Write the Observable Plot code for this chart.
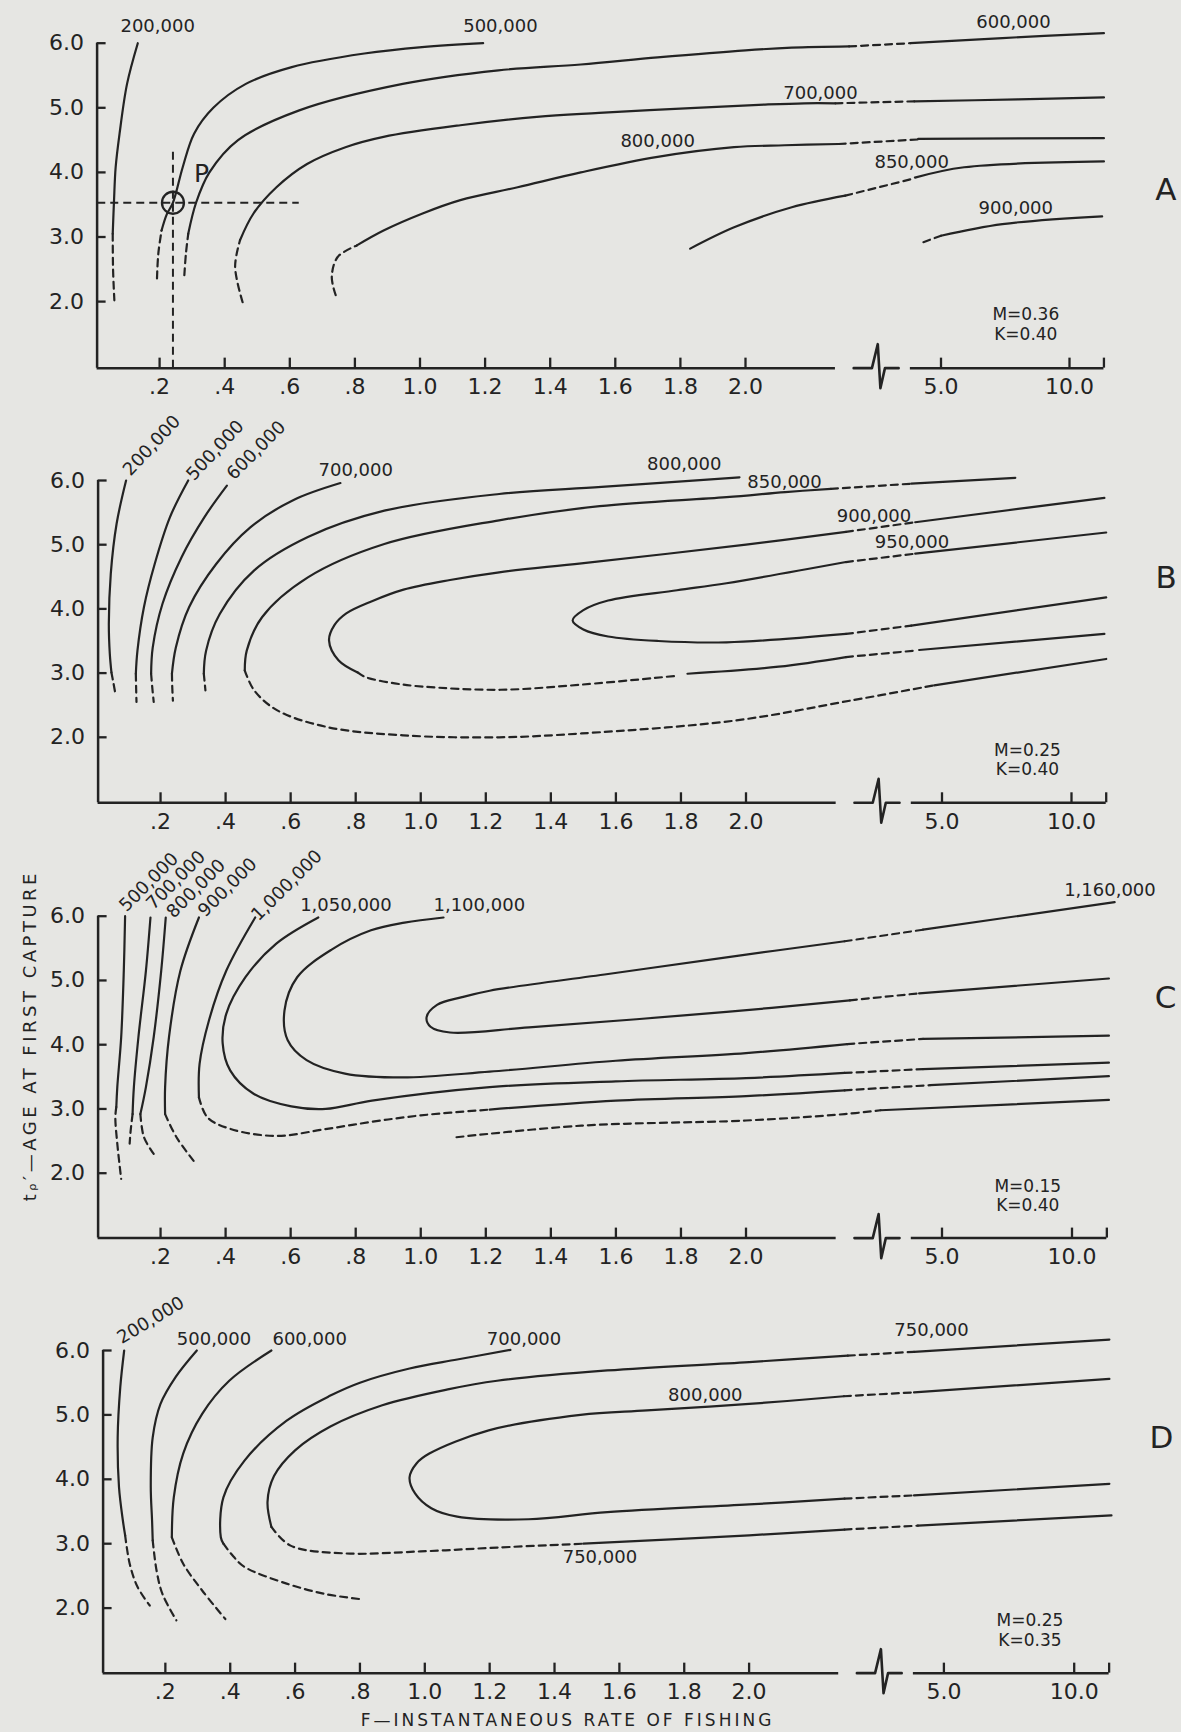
<!DOCTYPE html>
<html><head><meta charset="utf-8">
<script src="https://cdn.jsdelivr.net/npm/d3@7"></script>
<script src="https://cdn.jsdelivr.net/npm/@observablehq/plot@0.6"></script>
<style>
html,body{margin:0;padding:0;background:#e6e6e3;}
#page{position:relative;width:1181px;height:1732px;overflow:hidden;background:#e6e6e3;}
#page svg{position:absolute;left:0;top:0;}
</style></head><body><div id="page"></div>
<script>
// ---------- data ----------
const xTicks = [0.2,0.4,0.6,0.8,1.0,1.2,1.4,1.6,1.8,2.0,5.0,10.0];
const xTickLabels = [".2",".4",".6",".8","1.0","1.2","1.4","1.6","1.8","2.0","5.0","10.0"];
const yTicks = [2,3,4,5,6];
const yTickLabels = ["2.0","3.0","4.0","5.0","6.0"];
const axisEndF = 11.34;
const axisSegments = [[0.008,3.38],[4.53,11.34]];
const breakGlyph = [[3.66,0],[3.94,0],[4.03,24],[4.07,-20],[4.14,0],[4.35,0]]; // F, px offset
const panelKeys = ["A","B","C","D"];
const mValues = ["M=0.36","M=0.25","M=0.15","M=0.25"];
const kValues = ["K=0.40","K=0.40","K=0.40","K=0.35"];
const xTitle = "F\u2014INSTANTANEOUS RATE OF FISHING";
const yTitle = "t\u1D68\u2032\u2014AGE AT FIRST CAPTURE";
const pointP = [[0.241,3.53]];

// segments: [contour, style (s solid / d dashed), [[F, age], ...]]
const segmentsA = [
 ["200,000","s",[[0.133,6.0],[0.10,5.37],[0.077,4.6],[0.065,4.08],[0.06,3.57],[0.056,3.05]]],
 ["200,000","d",[[0.056,3.05],[0.057,2.5],[0.061,2.02]]],
 ["500,000","d",[[0.192,2.36],[0.196,2.74],[0.206,3.10]]],
 ["500,000","s",[[0.206,3.10],[0.222,3.35],[0.241,3.53],[0.271,4.08],[0.306,4.6],[0.365,5.0],[0.465,5.37],[0.606,5.63],[0.829,5.84],[1.006,5.94],[1.194,6.0]]],
 ["600,000","d",[[0.276,2.41],[0.281,2.75],[0.288,3.05]]],
 ["600,000","s",[[0.288,3.05],[0.312,3.53],[0.353,4.0],[0.441,4.5],[0.629,4.96],[0.947,5.37],[1.241,5.58],[1.494,5.67],[1.73,5.78],[2.0,5.89],[2.71,5.93],[3.59,5.95]]],
 ["600,000","d",[[3.59,5.95],[4.53,6.0]]],
 ["600,000","s",[[4.53,6.0],[7.39,6.08],[11.34,6.155]]],
 ["700,000","d",[[0.455,1.99],[0.432,2.54],[0.447,2.95]]],
 ["700,000","s",[[0.447,2.95],[0.488,3.36],[0.559,3.77],[0.653,4.13],[0.771,4.39],[0.888,4.55],[1.124,4.73],[1.359,4.86],[1.55,4.92],[1.847,5.0],[2.3,5.05],[2.9,5.07],[3.38,5.07]]],
 ["700,000","d",[[3.38,5.07],[4.59,5.10]]],
 ["700,000","s",[[4.59,5.10],[8.0,5.13],[11.34,5.16]]],
 ["800,000","d",[[0.741,2.10],[0.729,2.38],[0.747,2.69],[0.806,2.87]]],
 ["800,000","s",[[0.806,2.87],[0.888,3.10],[1.006,3.36],[1.124,3.57],[1.30,3.77],[1.494,4.0],[1.73,4.24],[1.965,4.39],[2.6,4.42],[3.43,4.44]]],
 ["800,000","d",[[3.43,4.44],[4.65,4.51]]],
 ["800,000","s",[[4.65,4.52],[11.34,4.53]]],
 ["850,000","s",[[1.83,2.82],[1.965,3.15],[2.71,3.46],[3.53,3.64]]],
 ["850,000","d",[[3.53,3.64],[4.6,3.91]]],
 ["850,000","s",[[4.6,3.92],[5.9,4.08],[11.34,4.17]]],
 ["900,000","d",[[4.73,2.92],[5.0,3.02]]],
 ["900,000","s",[[5.0,3.02],[7.39,3.20],[11.27,3.32]]]
];
const labelsA = [
 ["200,000",0.194,6.27,0],["500,000",1.247,6.27,0],["600,000",7.82,6.33,0],
 ["700,000",3.15,5.22,0],["800,000",1.73,4.49,0],["850,000",4.55,4.15,0],["900,000",7.91,3.45,0],
 ["P",0.329,3.98,0]
];

const segmentsB = [
 ["200,000","s",[[0.094,6.0],[0.065,5.33],[0.047,4.55],[0.041,3.77],[0.044,3.3],[0.049,3.01]]],
 ["200,000","d",[[0.049,3.01],[0.055,2.85],[0.061,2.68]]],
 ["500,000","s",[[0.285,6.0],[0.229,5.43],[0.182,4.70],[0.149,4.03],[0.129,3.35],[0.124,2.99]]],
 ["500,000","d",[[0.124,2.99],[0.125,2.75],[0.126,2.55]]],
 ["600,000","s",[[0.404,5.92],[0.335,5.43],[0.265,4.81],[0.206,4.08],[0.176,3.40],[0.171,2.99]]],
 ["600,000","d",[[0.171,2.99],[0.175,2.75],[0.179,2.55]]],
 ["700,000","s",[[0.753,5.96],[0.606,5.69],[0.476,5.27],[0.371,4.70],[0.288,4.03],[0.247,3.40],[0.235,2.99]]],
 ["700,000","d",[[0.235,2.99],[0.236,2.78],[0.238,2.57]]],
 ["800,000","s",[[1.98,6.05],[1.556,5.90],[1.241,5.79],[0.888,5.53],[0.653,5.12],[0.488,4.60],[0.382,3.92],[0.340,3.35],[0.333,2.99]]],
 ["800,000","d",[[0.333,2.99],[0.338,2.73]]],
 ["850,000","s",[[0.459,3.04],[0.465,3.35],[0.512,3.87],[0.653,4.49],[0.888,5.01],[1.241,5.38],[1.55,5.6],[1.94,5.74],[2.6,5.82],[3.3,5.87]]],
 ["850,000","d",[[3.3,5.87],[4.53,5.95]]],
 ["850,000","s",[[4.53,5.95],[7.83,6.04]]],
 ["850,000","d",[[0.459,3.04],[0.488,2.73],[0.559,2.42],[0.712,2.16],[0.947,2.03],[1.241,2.0],[1.494,2.06],[1.965,2.26],[3.59,2.57],[4.88,2.81]]],
 ["850,000","s",[[4.88,2.81],[11.34,3.22]]],
 ["900,000","s",[[0.806,3.01],[0.747,3.20],[0.718,3.51],[0.735,3.75],[0.771,3.93],[0.85,4.12],[0.947,4.30],[1.09,4.45],[1.241,4.57],[1.494,4.71],[2.0,5.0],[3.53,5.20]]],
 ["900,000","d",[[3.53,5.20],[4.59,5.35]]],
 ["900,000","s",[[4.59,5.35],[11.27,5.73]]],
 ["900,000","d",[[0.806,3.01],[0.829,2.94],[0.92,2.84],[1.006,2.79],[1.241,2.74],[1.494,2.82],[1.79,2.96]]],
 ["900,000","s",[[1.82,2.99],[2.5,3.1],[3.53,3.25]]],
 ["900,000","d",[[3.53,3.25],[4.59,3.35]]],
 ["900,000","s",[[4.65,3.36],[11.27,3.61]]],
 ["950,000","s",[[3.53,3.61],[1.94,3.48],[1.73,3.50],[1.576,3.57],[1.50,3.68],[1.467,3.82],[1.50,3.98],[1.576,4.13],[1.788,4.29],[1.94,4.40],[3.53,4.73]]],
 ["950,000","d",[[3.53,4.73],[4.59,4.86]]],
 ["950,000","s",[[4.59,4.86],[11.34,5.19]]],
 ["950,000","d",[[3.53,3.61],[4.53,3.74]]],
 ["950,000","s",[[4.53,3.74],[11.34,4.18]]]
];
const labelsB = [
 ["200,000",0.173,6.545,-47],["500,000",0.368,6.47,-47],["600,000",0.494,6.47,-45],
 ["700,000",0.80,6.16,0],["800,000",1.81,6.25,0],["850,000",2.59,5.97,0],
 ["900,000",3.96,5.45,0],["950,000",4.54,5.04,0]
];

const segmentsC = [
 ["500,000","s",[[0.091,6.0],[0.087,5.15],[0.079,4.12],[0.067,3.34],[0.064,3.03]]],
 ["500,000","d",[[0.064,3.03],[0.061,2.87],[0.067,2.46],[0.079,1.91]]],
 ["700,000","s",[[0.169,5.98],[0.155,5.15],[0.132,4.12],[0.118,3.34],[0.114,2.92]]],
 ["700,000","d",[[0.114,2.92],[0.108,2.66],[0.105,2.46]]],
 ["800,000","s",[[0.216,5.98],[0.202,5.15],[0.179,4.12],[0.155,3.34],[0.138,2.92]]],
 ["800,000","d",[[0.138,2.92],[0.149,2.56],[0.179,2.30]]],
 ["900,000","s",[[0.318,5.98],[0.261,5.15],[0.226,4.12],[0.214,3.34],[0.214,2.92]]],
 ["900,000","d",[[0.214,2.92],[0.249,2.56],[0.308,2.15]]],
 ["1,000,000","s",[[0.491,5.98],[0.402,5.15],[0.349,4.38],[0.32,3.70],[0.318,3.18]]],
 ["1,000,000","d",[[0.318,3.18],[0.344,2.87],[0.414,2.69],[0.555,2.58],[0.70,2.68],[0.85,2.80],[1.0,2.90],[1.212,2.99]]],
 ["1,000,000","s",[[1.212,2.99],[1.6,3.13],[2.0,3.20],[3.51,3.29]]],
 ["1,000,000","d",[[3.51,3.29],[4.82,3.37]]],
 ["1,000,000","s",[[4.82,3.37],[11.42,3.51]]],
 ["1,050,000","s",[[0.685,5.98],[0.555,5.57],[0.461,5.05],[0.402,4.48],[0.391,4.02],[0.414,3.60],[0.485,3.24],[0.602,3.04],[0.708,3.0],[0.85,3.13],[1.212,3.34],[1.6,3.43],[2.0,3.48],[3.51,3.56]]],
 ["1,050,000","d",[[3.51,3.56],[4.71,3.62]]],
 ["1,050,000","s",[[4.71,3.62],[11.42,3.72]]],
 ["1,100,000","s",[[1.070,5.98],[0.95,5.90],[0.847,5.78],[0.726,5.48],[0.62,5.05],[0.581,4.53],[0.591,4.07],[0.649,3.76],[0.767,3.55],[0.944,3.49],[1.212,3.58],[1.6,3.75],[2.0,3.87],[3.55,4.01]]],
 ["1,100,000","d",[[3.55,4.01],[4.71,4.09]]],
 ["1,100,000","s",[[4.71,4.09],[11.42,4.14]]],
 ["1,160,000","s",[[3.59,4.69],[1.94,4.51],[1.333,4.27],[1.09,4.19],[1.03,4.28],[1.018,4.43],[1.05,4.62],[1.127,4.74],[1.212,4.84],[1.576,5.10],[1.94,5.36],[3.51,5.61]]],
 ["1,160,000","d",[[3.51,5.61],[4.71,5.79]]],
 ["1,160,000","s",[[4.71,5.79],[11.64,6.22]]],
 ["1,160,000","d",[[3.59,4.69],[4.65,4.80]]],
 ["1,160,000","s",[[4.65,4.80],[11.42,5.03]]],
 ["lower","d",[[1.11,2.56],[1.494,2.74],[2.0,2.82],[3.51,2.92],[4.06,2.98]]],
 ["lower","s",[[4.06,2.98],[11.42,3.14]]]
];
const labelsC = [
 ["500,000",0.164,6.53,-45],["700,000",0.247,6.56,-45],["800,000",0.309,6.43,-45],
 ["900,000",0.406,6.45,-45],["1,000,000",0.588,6.48,-45],
 ["1,050,000",0.77,6.17,0],["1,100,000",1.18,6.17,0],["1,160,000",11.46,6.40,0]
];

const segmentsD = [
 ["200,000","s",[[0.073,6.0],[0.061,5.43],[0.053,4.65],[0.057,3.88],[0.069,3.36],[0.076,3.13]]],
 ["200,000","d",[[0.076,3.13],[0.09,2.69],[0.114,2.33],[0.152,2.04]]],
 ["500,000","s",[[0.297,6.0],[0.232,5.59],[0.185,5.17],[0.161,4.65],[0.155,3.88],[0.159,3.36],[0.161,3.05]]],
 ["500,000","d",[[0.161,3.05],[0.173,2.58],[0.191,2.22],[0.234,1.81]]],
 ["600,000","s",[[0.527,6.0],[0.397,5.53],[0.314,5.02],[0.255,4.40],[0.226,3.72],[0.22,3.10]]],
 ["600,000","d",[[0.22,3.10],[0.255,2.69],[0.314,2.27],[0.385,1.83]]],
 ["700,000","s",[[1.264,6.01],[1.1,5.86],[0.953,5.72],[0.80,5.50],[0.709,5.30],[0.574,4.91],[0.444,4.29],[0.379,3.72],[0.371,3.10],[0.379,3.0]]],
 ["700,000","d",[[0.379,3.0],[0.41,2.80],[0.444,2.64],[0.574,2.38],[0.692,2.22],[0.80,2.14]]],
 ["750,000","s",[[3.52,5.92],[2.0,5.82],[1.563,5.69],[1.223,5.53],[1.075,5.40],[0.869,5.15],[0.709,4.82],[0.60,4.45],[0.535,4.05],[0.515,3.65],[0.527,3.26]]],
 ["750,000","d",[[0.527,3.26],[0.586,2.97],[0.751,2.85],[0.987,2.88],[1.223,2.94],[1.489,3.0]]],
 ["750,000","s",[[1.489,3.0],[2.0,3.13],[3.47,3.22]]],
 ["750,000","d",[[3.47,3.22],[4.6,3.28]]],
 ["750,000","s",[[4.6,3.28],[11.43,3.44]]],
 ["750,000","d",[[3.52,5.92],[4.54,5.98]]],
 ["750,000","s",[[4.54,5.98],[11.35,6.17]]],
 ["800,000","s",[[3.47,3.70],[2.0,3.61],[1.563,3.49],[1.32,3.38],[1.10,3.42],[1.02,3.55],[0.97,3.78],[0.953,4.03],[0.975,4.25],[1.014,4.40],[1.197,4.76],[1.48,5.0],[1.685,5.07],[2.0,5.17],[3.46,5.29]]],
 ["800,000","d",[[3.46,5.29],[4.54,5.35]]],
 ["800,000","s",[[4.54,5.35],[11.35,5.56]]],
 ["800,000","d",[[3.47,3.70],[4.54,3.75]]],
 ["800,000","s",[[4.54,3.75],[11.35,3.93]]]
];
const labelsD = [
 ["200,000",0.155,6.47,-31],["500,000",0.35,6.18,0],["600,000",0.645,6.18,0],
 ["700,000",1.306,6.18,0],["750,000",4.81,6.31,0],["800,000",1.865,5.30,0],["750,000",1.54,2.79,0]
];

// ---------- layout (pixel placement of each panel) ----------
const layout = {
 A:{x:[94,745,940.5,1069],    y6:42.7,  unit:64.6,  axis:0.97, letterF:13.75, letter:3.72},
 B:{x:[95,745.5,941.5,1071],  y6:480,   unit:64.2,  axis:0.98, letterF:13.65, letter:4.48},
 C:{x:[95,745.5,941.5,1071.5],y6:915.7, unit:64.25, axis:0.99, letterF:13.6,  letter:4.72},
 D:{x:[100,748.6,943.4,1073.7],y6:1350, unit:64.4,  axis:0.99, letterF:13.35, letter:4.64}
};
const ink = "#232323";
const font = "DejaVu Sans";
const yAxisF = 0.008;

const page = document.getElementById("page");
const allSegments = {A:segmentsA,B:segmentsB,C:segmentsC,D:segmentsD};
const allLabels = {A:labelsA,B:labelsB,C:labelsC,D:labelsD};

panelKeys.forEach((key, pi) => {
  const L = layout[key];
  const [x0, x2, x5, x10] = L.x;
  const k = (x2 - x0) / 2;              // px per unit of F on the linear part
  const s25 = (x5 - x2) / 3 / k;        // compression between 2 and 5 (broken part)
  const s510 = (x10 - x5) / 5 / k;      // compression beyond 5
  // broken-axis warp applied by the x scale
  const warp = F => F <= 2 ? F : F <= 5 ? 2 + (F - 2) * s25 : 2 + 3 * s25 + (F - 5) * s510;
  const unit = L.unit, ax = L.axis;
  const fPerPx = 1 / k;
  const rows = [];
  allSegments[key].forEach(([name, style, pts], i) =>
    pts.forEach(([F, age], j) => rows.push({seg: i, style, F, age, j})));
  const marks = [
    Plot.line(rows.filter(r => r.style === "s"), {x: "F", y: "age", z: "seg", curve: "catmull-rom", stroke: ink, strokeWidth: 2.2}),
    Plot.line(rows.filter(r => r.style === "d"), {x: "F", y: "age", z: "seg", curve: "catmull-rom", stroke: ink, strokeWidth: 2.2, strokeDasharray: "7,5"}),
    // y axis
    Plot.ruleX([yAxisF], {x: d => d, y1: ax, y2: 6, stroke: ink, strokeWidth: 2.5}),
    Plot.ruleY(yTicks, {y: d => d, x1: yAxisF, x2: yAxisF + 9 * fPerPx, stroke: ink, strokeWidth: 2.3}),
    // x axis with break
    Plot.ruleY(axisSegments, {y: ax, x1: d => d[0], x2: d => d[1], stroke: ink, strokeWidth: 2.5}),
    Plot.ruleX(xTicks.concat([axisEndF]), {x: d => d, y1: ax, y2: ax + 10 / unit, stroke: ink, strokeWidth: 2.3}),
    Plot.line(breakGlyph, {x: d => d[0], y: d => ax + d[1] / unit, stroke: ink, strokeWidth: 2.6, curve: "linear"}),
    Plot.text(xTicks, {x: d => d, y: ax, text: (d, i) => xTickLabels[i], dy: 19, fontSize: 22, fill: ink}),
    Plot.text(yTicks, {x: yAxisF, y: d => d, text: (d, i) => yTickLabels[i], dx: -13, textAnchor: "end", fontSize: 22, fill: ink}),
    // contour labels
    Plot.text(allLabels[key], {x: d => d[1], y: d => d[2], text: d => d[0], rotate: d => d[3], fontSize: d => d[0] === "P" ? 25 : 18, fill: ink}),
    // panel letter & parameters
    Plot.text([key], {x: L.letterF, y: L.letter, text: d => d, fontSize: 31, fill: ink}),
    Plot.text([mValues[pi], kValues[pi]], {x: 8.3, y: (d, i) => i ? 1.49 : 1.80, text: d => d, fontSize: 17, fill: ink})
  ];
  if (key === "A") {
    marks.push(
      Plot.dot(pointP, {x: d => d[0], y: d => d[1], r: 11, stroke: ink, strokeWidth: 2.3, fill: "none"}),
      Plot.ruleX(pointP, {x: d => d[0], y1: ax, y2: 4.39, stroke: ink, strokeWidth: 2, strokeDasharray: "8,5"}),
      Plot.ruleY(pointP, {y: d => d[1], x1: 0.01, x2: 0.629, stroke: ink, strokeWidth: 2, strokeDasharray: "8,5"})
    );
  }
  if (key === "C") {
    marks.push(Plot.text([yTitle], {x: -0.2, y: 4.14, text: d => d, rotate: -90, fontSize: 18, fill: ink}));
  }
  if (key === "D") {
    marks.push(Plot.text([xTitle], {x: 1.44, y: 0.255, text: d => d, fontSize: 17, fill: ink}));
  }
  const uMax = warp(12);
  const svg = Plot.plot({
    width: 1181, height: 1732,
    marginTop: 0, marginRight: 0, marginBottom: 0, marginLeft: 0,
    x: {type: "linear", transform: warp, domain: [0, uMax], range: [x0, x0 + k * uMax], axis: null},
    y: {type: "linear", domain: [1, 6], range: [L.y6 + 5 * unit, L.y6], axis: null},
    style: {background: "transparent", fontFamily: font, color: ink, maxWidth: "none", overflow: "visible"},
    marks
  });
  d3.select(svg).selectAll("text").filter(function() {
    return this.textContent === xTitle;
  }).attr("letter-spacing", 3);
  d3.select(svg).selectAll("text").filter(function() {
    return this.textContent === yTitle;
  }).attr("letter-spacing", 3.5);
  page.appendChild(svg);
});
</script></body></html>
